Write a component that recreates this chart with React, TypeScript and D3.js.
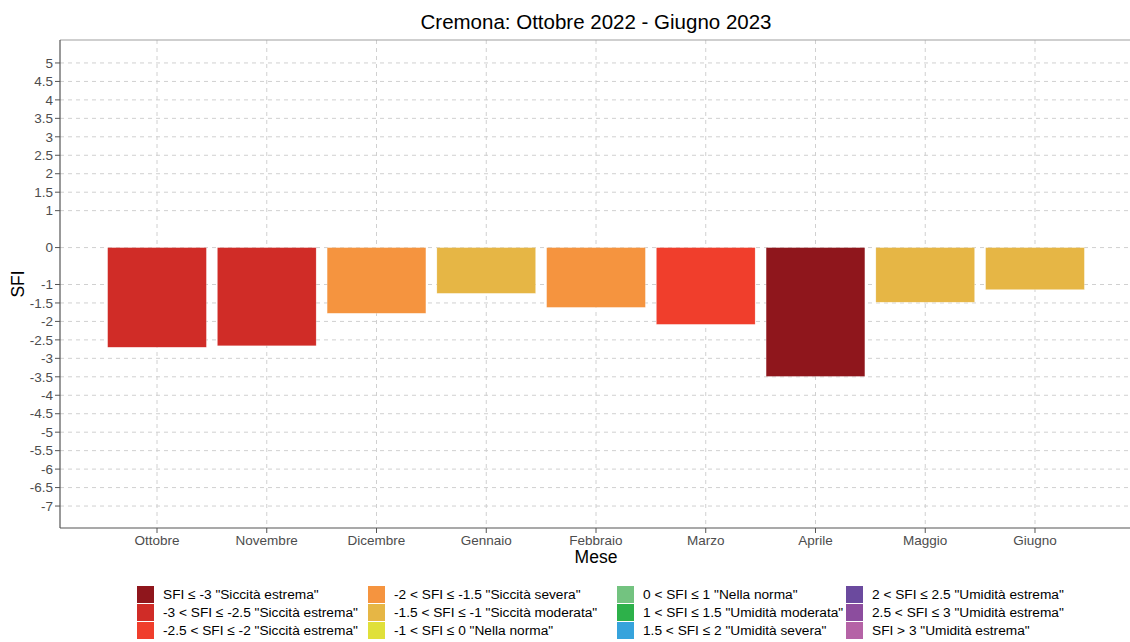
import * as d3 from "d3";

const months = ["Ottobre", "Novembre", "Dicembre", "Gennaio", "Febbraio", "Marzo", "Aprile", "Maggio", "Giugno"];
const sfiValues = [-2.7, -2.66, -1.78, -1.24, -1.62, -2.08, -3.49, -1.48, -1.14];
const yTicks = [5, 4.5, 4, 3.5, 3, 2.5, 2, 1.5, 1, 0, -1, -1.5, -2, -2.5, -3, -3.5, -4, -4.5, -5, -5.5, -6, -6.5, -7];

const classLabels = [
    'SFI ≤ -3 "Siccità estrema"',
    '-3 < SFI ≤ -2.5 "Siccità estrema"',
    '-2.5 < SFI ≤ -2 "Siccità estrema"',
    '-2 < SFI ≤ -1.5 "Siccità severa"',
    '-1.5 < SFI ≤ -1 "Siccità moderata"',
    '-1 < SFI ≤ 0 "Nella norma"',
    '0 < SFI ≤ 1 "Nella norma"',
    '1 < SFI ≤ 1.5 "Umidità moderata"',
    '1.5 < SFI ≤ 2 "Umidità severa"',
    '2 < SFI ≤ 2.5 "Umidità estrema"',
    '2.5 < SFI ≤ 3 "Umidità estrema"',
    'SFI > 3 "Umidità estrema"',
];
const classColors = [
    "#8f161c", "#d02c27", "#f03e2c", "#f5943f", "#e6b645", "#e0e03a",
    "#73c380", "#2db14a", "#36a3dc", "#6b4a9e", "#8c4d9e", "#b563a6",
];
const classBreaks = [-3, -2.5, -2, -1.5, -1, 0, 1, 1.5, 2, 2.5, 3];

// class index for a value (upper bound inclusive)
const classOf = (v: number) => {
    const i = classBreaks.findIndex(b => v <= b);
    return i === -1 ? classBreaks.length : i;
};

const W = 1130;
const H = 642;
const panel = { left: 60, top: 40, right: 1132, bottom: 528 };
const font = "'Liberation Sans', Arial, sans-serif";

export default function App() {
    // discrete x: panel spans 0.12 .. 9.88 in category units
    const x = d3.scaleLinear()
        .domain([0.116, 9.884])
        .range([panel.left, panel.right]);
    const xc = (m: string) => x(months.indexOf(m) + 1);
    const barW = (x(2) - x(1)) * 0.9;

    const y = d3.scaleLinear()
        .domain([-7.595, 5.622])
        .range([panel.bottom, panel.top]);

    const legendCols = [137, 368, 617, 846];
    const legendRows = [586, 604, 622];

    return (
        <svg width={W} height={H} style={{ position: "absolute", left: 0, top: 0, background: "#fff" }}
            fontFamily={font}>
            <text x={596} y={29} textAnchor="middle" fontSize={20.5} fill="#000">
                Cremona: Ottobre 2022 - Giugno 2023
            </text>

            {/* grid */}
            {yTicks.map(t => (
                <line key={"gy" + t} x1={panel.left} x2={W} y1={y(t)} y2={y(t)}
                    stroke="#d0d0d0" strokeWidth={1} strokeDasharray="4,4" />
            ))}
            {months.map(m => (
                <line key={"gx" + m} x1={xc(m)} x2={xc(m)} y1={panel.top} y2={panel.bottom}
                    stroke="#d0d0d0" strokeWidth={1} strokeDasharray="4,4" />
            ))}

            {/* bars */}
            {months.map((m, i) => {
                const v = sfiValues[i];
                return (
                    <rect key={"b" + m} x={xc(m) - barW / 2} width={barW}
                        y={y(Math.max(0, v))} height={Math.abs(y(v) - y(0))}
                        fill={classColors[classOf(v)]} stroke="#ffffff" strokeOpacity={0.5} strokeWidth={0.5} />
                );
            })}

            {/* panel border */}
            <line x1={panel.left} x2={W} y1={panel.top} y2={panel.top} stroke="#a0a0a0" strokeWidth={1.2} />
            <line x1={panel.left} x2={panel.left} y1={panel.top} y2={panel.bottom} stroke="#555" strokeWidth={1.2} />
            <line x1={panel.left} x2={W} y1={panel.bottom} y2={panel.bottom} stroke="#555" strokeWidth={1.2} />

            {/* y axis */}
            {yTicks.map(t => (
                <g key={"yt" + t}>
                    <line x1={panel.left - 5} x2={panel.left} y1={y(t)} y2={y(t)} stroke="#555" />
                    <text x={panel.left - 7} y={y(t)} dy="0.35em" textAnchor="end" fontSize={13.5} fill="#4d4d4d">
                        {t}
                    </text>
                </g>
            ))}
            <text transform={`translate(24,${(panel.top + panel.bottom) / 2}) rotate(-90)`} textAnchor="middle"
                fontSize={17.5} fill="#000">SFI</text>

            {/* x axis */}
            {months.map(m => (
                <g key={"xt" + m}>
                    <line x1={xc(m)} x2={xc(m)} y1={panel.bottom} y2={panel.bottom + 5} stroke="#555" />
                    <text x={xc(m)} y={panel.bottom + 17} textAnchor="middle" fontSize={13.5} fill="#4d4d4d">{m}</text>
                </g>
            ))}
            <text x={596} y={563} textAnchor="middle" fontSize={17.5} fill="#000">Mese</text>

            {/* legend */}
            {classLabels.map((lab, i) => {
                const col = Math.floor(i / 3);
                const row = i % 3;
                const lx = legendCols[col];
                const ly = legendRows[row];
                return (
                    <g key={"lg" + i}>
                        <rect x={lx} y={ly} width={17} height={17} fill={classColors[i]} />
                        <text x={lx + 26} y={ly + 8.5} dy="0.35em" fontSize={13.7} fill="#000">{lab}</text>
                    </g>
                );
            })}
        </svg>
    );
}
